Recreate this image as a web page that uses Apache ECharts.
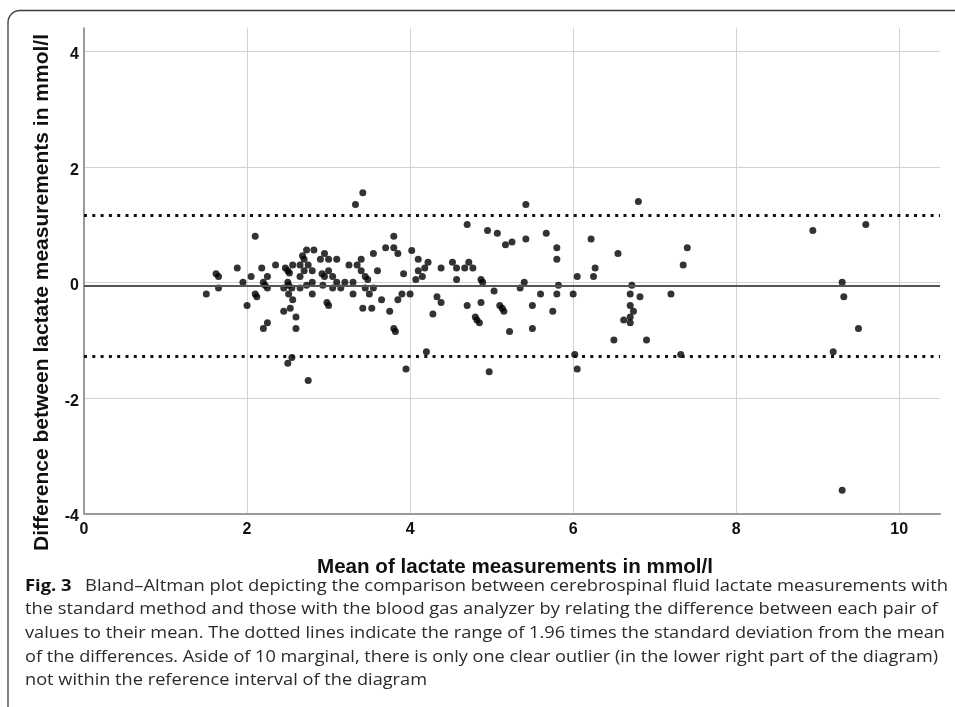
<!DOCTYPE html>
<html><head><meta charset="utf-8">
<script src="https://cdn.jsdelivr.net/npm/echarts@6/dist/echarts.min.js"></script>
<style>html,body{margin:0;padding:0;background:#fff}#c{width:955px;height:707px}</style>
</head><body><div id="c"></div>
<script>
// Mean of the two lactate measurements (mmol/l)
const meanValues = [
 1.50,1.62,1.65,1.65,1.88,1.95,2.00,2.05,2.10,2.10,2.12,2.18,2.20,2.22,2.25,2.25,2.20,2.25,2.35,2.45,
 2.45,2.47,2.50,2.52,2.50,2.51,2.55,2.51,2.56,2.53,2.56,2.60,2.60,2.55,2.50,
 2.65,2.65,2.65,2.68,2.70,2.70,2.73,2.73,2.75,2.75,2.80,2.80,2.80,2.82,2.90,2.92,2.93,2.95,2.95,2.98,
 3.00,3.00,3.00,3.05,3.05,3.10,3.10,3.15,3.20,3.25,3.30,3.30,3.33,3.35,3.40,3.40,3.42,3.42,3.45,3.48,
 3.45,3.50,3.53,3.55,3.55,3.60,3.65,3.70,3.75,3.80,3.80,3.80,3.82,3.85,3.85,3.90,3.92,3.95,4.00,4.02,
 4.07,4.10,4.10,4.15,4.18,4.20,4.22,4.28,4.33,4.38,4.38,4.52,4.57,4.57,4.67,4.70,4.70,4.72,4.77,4.80,
 4.82,4.85,4.87,4.89,4.87,4.95,4.97,5.03,5.07,
 5.10,5.13,5.15,5.17,5.22,5.25,5.35,5.40,5.42,5.42,5.50,5.50,5.60,5.67,5.75,5.80,5.80,5.80,5.82,6.00,
 6.02,6.05,6.05,6.22,6.25,6.27,6.50,6.55,6.62,6.70,6.70,6.70,6.70,6.72,6.74,6.80,6.82,6.90,7.20,7.32,
 7.35,7.40,
 8.94,9.59,9.30,9.32,9.50,9.19,9.30
];
// Difference between the two lactate measurements (mmol/l)
const diffValues = [
 -0.20,0.15,0.10,-0.10,0.25,0.00,-0.40,0.10,0.80,-0.20,-0.25,0.25,0.00,-0.05,-0.10,0.10,-0.80,-0.70,0.30,-0.10,
 -0.50,0.25,0.20,0.16,0.00,-0.05,-0.10,-0.20,-0.30,-0.45,0.30,-0.60,-0.80,-1.30,-1.40,
 0.30,0.10,-0.10,0.46,0.40,0.20,0.56,-0.05,0.30,-1.70,0.20,0.00,-0.20,0.56,0.40,0.15,-0.05,0.50,0.10,-0.35,
 -0.40,0.40,0.20,0.10,-0.10,0.40,0.00,-0.10,0.00,0.30,0.00,-0.20,1.35,0.30,0.40,0.20,1.55,-0.45,0.10,0.05,
 -0.10,-0.20,-0.45,0.50,-0.10,0.20,-0.30,0.60,-0.50,0.80,0.60,-0.80,-0.85,0.50,-0.30,-0.20,0.15,-1.50,-0.20,0.55,
 0.05,0.40,0.20,0.10,0.25,-1.20,0.35,-0.55,-0.25,-0.35,0.25,0.35,0.25,0.05,0.25,1.00,-0.40,0.35,0.25,-0.60,
 -0.65,-0.70,0.05,0.00,-0.35,0.90,-1.55,-0.15,0.85,
 -0.40,-0.45,-0.50,0.65,-0.85,0.70,-0.10,0.00,1.35,0.75,-0.40,-0.80,-0.20,0.85,-0.50,0.60,0.40,-0.20,-0.05,-0.20,
 -1.25,0.10,-1.50,0.75,0.10,0.25,-1.00,0.50,-0.65,-0.70,-0.60,-0.40,-0.20,-0.05,-0.50,1.40,-0.25,-1.00,-0.20,-1.25,
 0.30,0.60,
 0.90,1.00,0.00,-0.25,-0.80,-1.20,-3.60
];
const meanDifference = -0.06;
const upperLimit = 1.16;
const lowerLimit = -1.28;

const xAxisTitle = 'Mean of lactate measurements in mmol/l';
const yAxisTitle = 'Difference between lactate measurements in mmol/l';
const captionLabel = 'Fig. 3';
const captionLines = [
 'Bland–Altman plot depicting the comparison between cerebrospinal fluid lactate measurements with',
 'the standard method and those with the blood gas analyzer by relating the difference between each pair of',
 'values to their mean. The dotted lines indicate the range of 1.96 times the standard deviation from the mean',
 'of the differences. Aside of 10 marginal, there is only one clear outlier (in the lower right part of the diagram)',
 'not within the reference interval of the diagram'
];
// right ends of the caption lines (layout)
const captionEnds = [948, 938, 945, 938, 427];

const points = meanValues.map((x, i) => [x, diffValues[i]]);

const capFont = '16.5px "Open Sans"';
const capBold = 'bold 16.5px "Open Sans"';
const mctx = document.createElement('canvas').getContext('2d');
mctx.font = capBold;
const wLabel = mctx.measureText(captionLabel).width;
mctx.font = capFont;
const gap = 12;
const capLeft = 25, capTop = 586, capStep = 23.6;

const graphics = [
 {type:'rect', silent:true, shape:{x:8, y:10.5, width:1200, height:900, r:[12,0,0,0]},
  style:{fill:'none', stroke:'#3c3c3c', lineWidth:1.3}},
 {type:'text', x:42.6, y:292.5, rotation:Math.PI/2,
  style:{text:yAxisTitle, font:'bold 21px "Liberation Sans"', fill:'#111', align:'center', verticalAlign:'middle'}},
 {type:'text', x:515, y:567.5,
  style:{text:xAxisTitle, font:'bold 20.6px "Liberation Sans"', fill:'#111', align:'center', verticalAlign:'middle'}}
];
captionLines.forEach((line, i) => {
  const w = mctx.measureText(line).width;
  const y = capTop + i * capStep;
  if (i === 0) {
    const s = (captionEnds[0] - capLeft) / (wLabel + gap + w);
    graphics.push({type:'text', x:capLeft, y:y, scaleX:s,
      style:{text:captionLabel, font:capBold, fill:'#111', align:'left', verticalAlign:'middle'}});
    graphics.push({type:'text', x:capLeft + (wLabel + gap) * s, y:y, scaleX:s,
      style:{text:line, font:capFont, fill:'#2a2a2a', align:'left', verticalAlign:'middle'}});
  } else {
    const s = (captionEnds[i] - capLeft) / w;
    graphics.push({type:'text', x:capLeft, y:y, scaleX:s,
      style:{text:line, font:capFont, fill:'#2a2a2a', align:'left', verticalAlign:'middle'}});
  }
});

const labelFont = {color:'#111', fontFamily:'Liberation Sans', fontWeight:'bold', fontSize:16};
const chart = echarts.init(document.getElementById('c'), null, {renderer:'canvas'});
chart.setOption({
  animation:false,
  grid:{left:84, right:15, top:28.3, bottom:193.7},
  xAxis:{type:'value', min:0, max:10.5, interval:2,
    axisLine:{show:true, onZero:false, lineStyle:{color:'#9a9a9a', width:2}},
    axisTick:{show:false},
    axisLabel:Object.assign({margin:8, showMaxLabel:false}, labelFont),
    splitLine:{show:true, showMinLine:false, showMaxLine:false, lineStyle:{color:'#d2d2d2', width:1}}},
  yAxis:{type:'value', min:-4, max:4.4, interval:2,
    axisLine:{show:true, onZero:false, lineStyle:{color:'#9a9a9a', width:2}},
    axisTick:{show:false},
    axisLabel:Object.assign({margin:5, showMaxLabel:false, formatter:'{a|{value}}',
      rich:{a:Object.assign({padding:[7,0,0,0]}, labelFont)}}, labelFont),
    splitLine:{show:true, showMinLine:false, showMaxLine:false, lineStyle:{color:'#d2d2d2', width:1}}},
  graphic:graphics,
  series:[
    {type:'line', data:[], z:1, silent:true,
     markLine:{silent:true, symbol:'none', label:{show:false}, animation:false,
       data:[
         {yAxis:meanDifference, lineStyle:{color:'#555', width:2, type:'solid'}},
         {yAxis:upperLimit, lineStyle:{color:'#111', width:3, type:[3,5.3]}},
         {yAxis:lowerLimit, lineStyle:{color:'#111', width:3, type:[3,5.3]}}
       ]}},
    {type:'scatter', data:points, z:3, symbol:'circle', symbolSize:7,
     itemStyle:{color:'#000'}}
  ]
});
</script></body></html>
